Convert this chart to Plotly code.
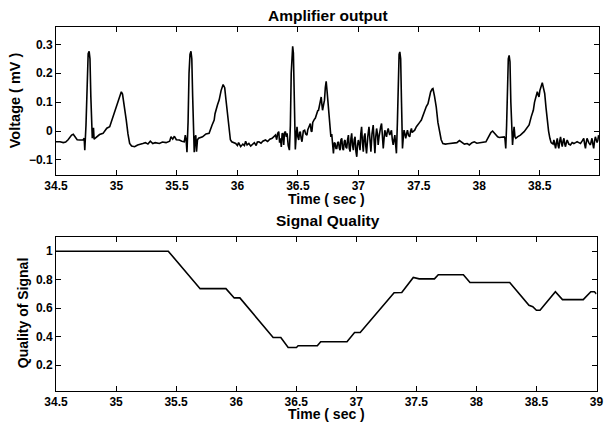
import plotly.graph_objects as go

# ---------------- data ----------------
ecg_time = [
    34.500, 34.533, 34.560, 34.580, 34.600, 34.629, 34.643, 34.656, 34.675, 34.697,
    34.725, 34.733, 34.738, 34.748, 34.758, 34.766, 34.774, 34.781, 34.788, 34.795,
    34.800, 34.806, 34.810, 34.815, 34.834, 34.860, 34.889, 34.920, 34.944, 34.960,
    34.971, 34.990, 34.999, 35.021, 35.030, 35.040, 35.050, 35.065, 35.081, 35.095,
    35.109, 35.125, 35.150, 35.175, 35.200, 35.218, 35.240, 35.260, 35.280, 35.300,
    35.320, 35.355, 35.380, 35.410, 35.440, 35.451, 35.465, 35.479, 35.495, 35.520,
    35.540, 35.561, 35.569, 35.576, 35.583, 35.592, 35.600, 35.608, 35.616, 35.623,
    35.630, 35.637, 35.643, 35.651, 35.656, 35.662, 35.670, 35.679, 35.695, 35.712,
    35.740, 35.766, 35.790, 35.808, 35.815, 35.821, 35.835, 35.849, 35.865, 35.882,
    35.895, 35.905, 35.917, 35.930, 35.942, 35.953, 35.970, 35.986, 36.000, 36.010,
    36.027, 36.045, 36.058, 36.068, 36.080, 36.095, 36.110, 36.123, 36.140, 36.155,
    36.165, 36.178, 36.195, 36.210, 36.232, 36.250, 36.268, 36.287, 36.300, 36.315,
    36.325, 36.333, 36.342, 36.349, 36.356, 36.363, 36.370, 36.377, 36.383, 36.390,
    36.397, 36.405, 36.411, 36.420, 36.430, 36.438, 36.445, 36.451, 36.457, 36.463,
    36.470, 36.476, 36.479, 36.487, 36.493, 36.500, 36.507, 36.514, 36.520, 36.527,
    36.534, 36.545, 36.556, 36.565, 36.575, 36.582, 36.589, 36.596, 36.603, 36.610,
    36.616, 36.623, 36.630, 36.637, 36.644, 36.650, 36.657, 36.664, 36.671, 36.678,
    36.685, 36.693, 36.698, 36.704, 36.712, 36.720, 36.727, 36.734, 36.741, 36.748,
    36.755, 36.762, 36.768, 36.773, 36.780, 36.787, 36.794, 36.801, 36.808, 36.815,
    36.822, 36.829, 36.836, 36.843, 36.849, 36.856, 36.863, 36.870, 36.877, 36.884,
    36.890, 36.897, 36.904, 36.911, 36.918, 36.925, 36.932, 36.939, 36.945, 36.952,
    36.959, 36.966, 36.973, 36.980, 36.987, 36.993, 37.000, 37.007, 37.014, 37.020,
    37.027, 37.034, 37.041, 37.048, 37.055, 37.061, 37.068, 37.078, 37.088, 37.096,
    37.104, 37.113, 37.123, 37.130, 37.137, 37.144, 37.151, 37.158, 37.164, 37.171,
    37.178, 37.185, 37.192, 37.199, 37.206, 37.212, 37.219, 37.226, 37.233, 37.240,
    37.247, 37.254, 37.260, 37.267, 37.274, 37.281, 37.288, 37.295, 37.302, 37.308,
    37.315, 37.323, 37.330, 37.337, 37.343, 37.350, 37.357, 37.362, 37.365, 37.372,
    37.378, 37.385, 37.392, 37.399, 37.406, 37.415, 37.425, 37.432, 37.439, 37.445,
    37.452, 37.466, 37.480, 37.493, 37.507, 37.521, 37.535, 37.548, 37.562, 37.576,
    37.590, 37.598, 37.610, 37.617, 37.630, 37.644, 37.658, 37.672, 37.685, 37.699,
    37.720, 37.740, 37.770, 37.795, 37.815, 37.836, 37.855, 37.877, 37.900, 37.918,
    37.940, 37.959, 37.980, 38.014, 38.035, 38.055, 38.070, 38.082, 38.096, 38.110,
    38.124, 38.138, 38.152, 38.165, 38.185, 38.206, 38.212, 38.219, 38.226, 38.233,
    38.240, 38.247, 38.254, 38.261, 38.268, 38.275, 38.282, 38.288, 38.295, 38.302,
    38.316, 38.340, 38.371, 38.390, 38.412, 38.430, 38.447, 38.457, 38.466, 38.473,
    38.480, 38.487, 38.494, 38.501, 38.508, 38.515, 38.521, 38.530, 38.541, 38.552,
    38.562, 38.573, 38.584, 38.594, 38.604, 38.610, 38.617, 38.624, 38.631, 38.638,
    38.645, 38.652, 38.658, 38.665, 38.672, 38.679, 38.686, 38.693, 38.700, 38.707,
    38.713, 38.720, 38.727, 38.740, 38.754, 38.768, 38.782, 38.796, 38.809, 38.823,
    38.837, 38.850, 38.864, 38.871, 38.878, 38.884, 38.891, 38.905, 38.919, 38.926,
    38.932, 38.939, 38.946, 38.953, 38.960, 38.967, 38.974, 38.981, 38.987,
]
ecg_mv = [
    -0.037, -0.037, -0.040, -0.038, -0.030, -0.014, -0.011, -0.018, -0.030, -0.031,
    -0.030, -0.025, -0.066, 0.020, 0.200, 0.268, 0.276, 0.250, 0.120, -0.010,
    -0.025, 0.005, 0.011, -0.028, -0.020, -0.012, -0.008, 0.010, 0.015, 0.035,
    0.044, 0.070, 0.078, 0.107, 0.125, 0.136, 0.128, 0.090, 0.038, -0.010,
    -0.043, -0.052, -0.054, -0.048, -0.046, -0.043, -0.040, -0.045, -0.035, -0.043,
    -0.040, -0.043, -0.038, -0.040, -0.035, -0.020, -0.028, -0.018, -0.030, -0.031,
    -0.035, -0.037, -0.014, -0.030, -0.073, 0.030, 0.200, 0.265, 0.276, 0.250,
    0.120, -0.020, -0.073, -0.020, -0.015, -0.071, -0.030, -0.025, -0.022, -0.020,
    -0.010, -0.008, 0.020, 0.038, 0.060, 0.072, 0.090, 0.107, 0.140, 0.161,
    0.150, 0.110, 0.061, 0.010, -0.030, -0.037, -0.040, -0.043, -0.050, -0.040,
    -0.054, -0.045, -0.050, -0.035, -0.048, -0.043, -0.052, -0.045, -0.040, -0.050,
    -0.038, -0.037, -0.042, -0.035, -0.031, -0.036, -0.028, -0.025, -0.020, -0.014,
    -0.030, -0.008, -0.002, -0.040, -0.025, -0.055, -0.008, -0.010, -0.048, -0.005,
    -0.002, -0.020, -0.008, -0.050, -0.066, 0.020, 0.200, 0.280, 0.293, 0.270,
    0.130, -0.020, -0.064, -0.010, 0.015, -0.020, -0.031, -0.005, -0.002, -0.025,
    -0.037, 0.000, 0.003, -0.010, -0.014, 0.005, 0.015, 0.020, 0.026, 0.000,
    -0.002, 0.030, 0.038, 0.041, 0.044, 0.055, 0.067, 0.070, 0.072, 0.090,
    0.107, 0.118, 0.095, 0.072, 0.090, 0.107, 0.150, 0.172, 0.140, 0.107,
    0.060, 0.038, 0.000, -0.020, -0.010, -0.050, -0.077, -0.040, -0.043, -0.060,
    -0.060, -0.040, -0.037, -0.060, -0.066, -0.030, -0.025, -0.060, -0.066, -0.035,
    -0.031, -0.055, -0.060, -0.030, -0.014, -0.060, -0.071, -0.025, -0.008, -0.050,
    -0.066, -0.030, -0.020, -0.070, -0.089, -0.050, -0.031, -0.045, -0.066, -0.010,
    0.015, -0.040, -0.071, -0.020, -0.008, -0.050, -0.077, -0.020, 0.015, -0.030,
    -0.071, -0.010, 0.021, -0.030, -0.077, -0.020, 0.009, -0.010, -0.048, -0.020,
    0.003, 0.015, 0.026, -0.010, -0.060, -0.030, 0.003, -0.010, -0.020, 0.000,
    0.009, -0.005, -0.014, -0.005, 0.003, -0.030, -0.048, -0.030, -0.014, -0.045,
    -0.077, 0.030, 0.200, 0.265, 0.274, 0.250, 0.100, -0.020, -0.060, -0.020,
    0.003, -0.010, -0.025, -0.010, 0.003, -0.015, -0.020, 0.000, 0.009, -0.005,
    -0.002, 0.003, 0.015, 0.021, 0.030, 0.038, 0.055, 0.067, 0.085, 0.095,
    0.120, 0.136, 0.145, 0.147, 0.120, 0.084, 0.030, 0.003, -0.030, -0.043,
    -0.045, -0.044, -0.043, -0.043, -0.040, -0.033, -0.040, -0.045, -0.043, -0.048,
    -0.040, -0.037, -0.042, -0.040, -0.040, -0.037, -0.025, -0.014, -0.005, 0.000,
    -0.008, -0.014, -0.020, -0.022, -0.020, -0.020, -0.025, -0.060, 0.020, 0.180,
    0.250, 0.262, 0.240, 0.100, -0.020, -0.048, -0.010, 0.015, -0.020, -0.025,
    -0.020, -0.014, -0.002, 0.010, 0.021, 0.050, 0.072, 0.100, 0.118, 0.125,
    0.136, 0.125, 0.118, 0.140, 0.153, 0.165, 0.167, 0.150, 0.130, 0.080,
    0.038, 0.000, -0.025, -0.040, -0.043, -0.045, -0.031, -0.050, -0.060, -0.040,
    -0.025, -0.050, -0.060, -0.035, -0.020, -0.040, -0.054, -0.035, -0.025, -0.045,
    -0.054, -0.040, -0.031, -0.045, -0.048, -0.040, -0.043, -0.040, -0.037, -0.040,
    -0.043, -0.035, -0.025, -0.045, -0.060, -0.040, -0.025, -0.040, -0.048, -0.035,
    -0.025, -0.045, -0.060, -0.035, -0.020, -0.030, -0.040, -0.030, -0.014,
]

quality_time = [
    34.500, 35.435, 35.700, 35.915, 35.984, 36.031, 36.308, 36.372, 36.433, 36.502,
    36.516, 36.676, 36.704, 36.923, 36.986, 37.033, 37.315, 37.379, 37.475, 37.524,
    37.651, 37.683, 37.892, 37.947, 38.278, 38.438, 38.470, 38.500, 38.530, 38.658,
    38.717, 38.890, 38.953, 38.983, 39.000,
]
quality_value = [
    1.000, 1.000, 0.737, 0.737, 0.672, 0.672, 0.394, 0.394, 0.324, 0.324,
    0.336, 0.336, 0.364, 0.364, 0.429, 0.429, 0.708, 0.710, 0.816, 0.806,
    0.806, 0.835, 0.835, 0.780, 0.780, 0.620, 0.610, 0.585, 0.585, 0.716,
    0.660, 0.660, 0.715, 0.715, 0.700,
]

top_xticks = [34.5, 35, 35.5, 36, 36.5, 37, 37.5, 38, 38.5]
top_xlabels = ["34.5", "35", "35.5", "36", "36.5", "37", "37.5", "38", "38.5"]
top_yticks = [-0.1, 0, 0.1, 0.2, 0.3]
top_ylabels = ["\u22120.1", "0", "0.1", "0.2", "0.3"]
bot_xticks = [34.5, 35, 35.5, 36, 36.5, 37, 37.5, 38, 38.5, 39]
bot_xlabels = ["34.5", "35", "35.5", "36", "36.5", "37", "37.5", "38", "38.5", "39"]
bot_yticks = [0.2, 0.4, 0.6, 0.8, 1.0]
bot_ylabels = ["0.2", "0.4", "0.6", "0.8", "1"]

# ---------------- figure ----------------
W, H = 606, 424
FONT = "Liberation Sans, Arial, Helvetica, sans-serif"
tickfont = dict(family=FONT, size=12, color="black", weight="bold")

fig = go.Figure()
fig.add_trace(go.Scatter(x=ecg_time, y=ecg_mv, mode="lines",
                         line=dict(color="black", width=1.6),
                         xaxis="x", yaxis="y", showlegend=False))
fig.add_trace(go.Scatter(x=quality_time, y=quality_value, mode="lines",
                         line=dict(color="black", width=1.6),
                         xaxis="x2", yaxis="y2", showlegend=False))

L, R = 56, 4
pw = W - L - R

def ypx(top, bottom):
    return [1 - bottom / H, 1 - top / H]

axis_common = dict(showline=True, linecolor="black", linewidth=1, mirror="allticks",
                   ticks="inside", ticklen=5, tickcolor="black", showgrid=False,
                   zeroline=False, tickfont=tickfont, ticklabeloverflow="allow")

fig.update_layout(
    width=W, height=H,
    margin=dict(l=L, r=R, t=0, b=0),
    paper_bgcolor="white", plot_bgcolor="white",
    xaxis=dict(domain=[0, 1], range=[34.5, 38.99], anchor="y",
               tickvals=top_xticks, ticktext=top_xlabels, **axis_common),
    yaxis=dict(domain=ypx(27, 175), range=[-0.152, 0.36], anchor="x",
               tickvals=top_yticks, ticktext=top_ylabels, **axis_common),
    xaxis2=dict(domain=[0, (599.5 - L) / pw], range=[34.5, 39.0005], anchor="y2",
                tickvals=bot_xticks, ticktext=bot_xlabels, **axis_common),
    yaxis2=dict(domain=ypx(237, 391), range=[0.018, 1.1], anchor="x2",
                tickvals=bot_yticks, ticktext=bot_ylabels, **axis_common),
)

def label(text, x, y, size, angle=0):
    fig.add_annotation(text=text, x=(x - L) / pw, y=1 - y / H, xref="paper", yref="paper",
                       showarrow=False, textangle=angle, xanchor="center", yanchor="middle",
                       font=dict(family=FONT, size=size, color="black", weight="bold"))

label("Amplifier output", 329, 16, 15.5)
label("Time ( sec )", 328, 199, 14)
label("Voltage ( mV )", 15, 100, 14.5, -90)
label("Signal Quality", 330, 220, 15.5)
label("Time ( sec )", 328, 414, 14)
label("Quality of Signal", 23, 313, 14, -90)

# remove the default page margin so the figure sits at the window's top-left corner
fig.write_html("out.html",
               config={"displayModeBar": False},
               post_script="document.body.style.margin='0';document.documentElement.style.margin='0';")
